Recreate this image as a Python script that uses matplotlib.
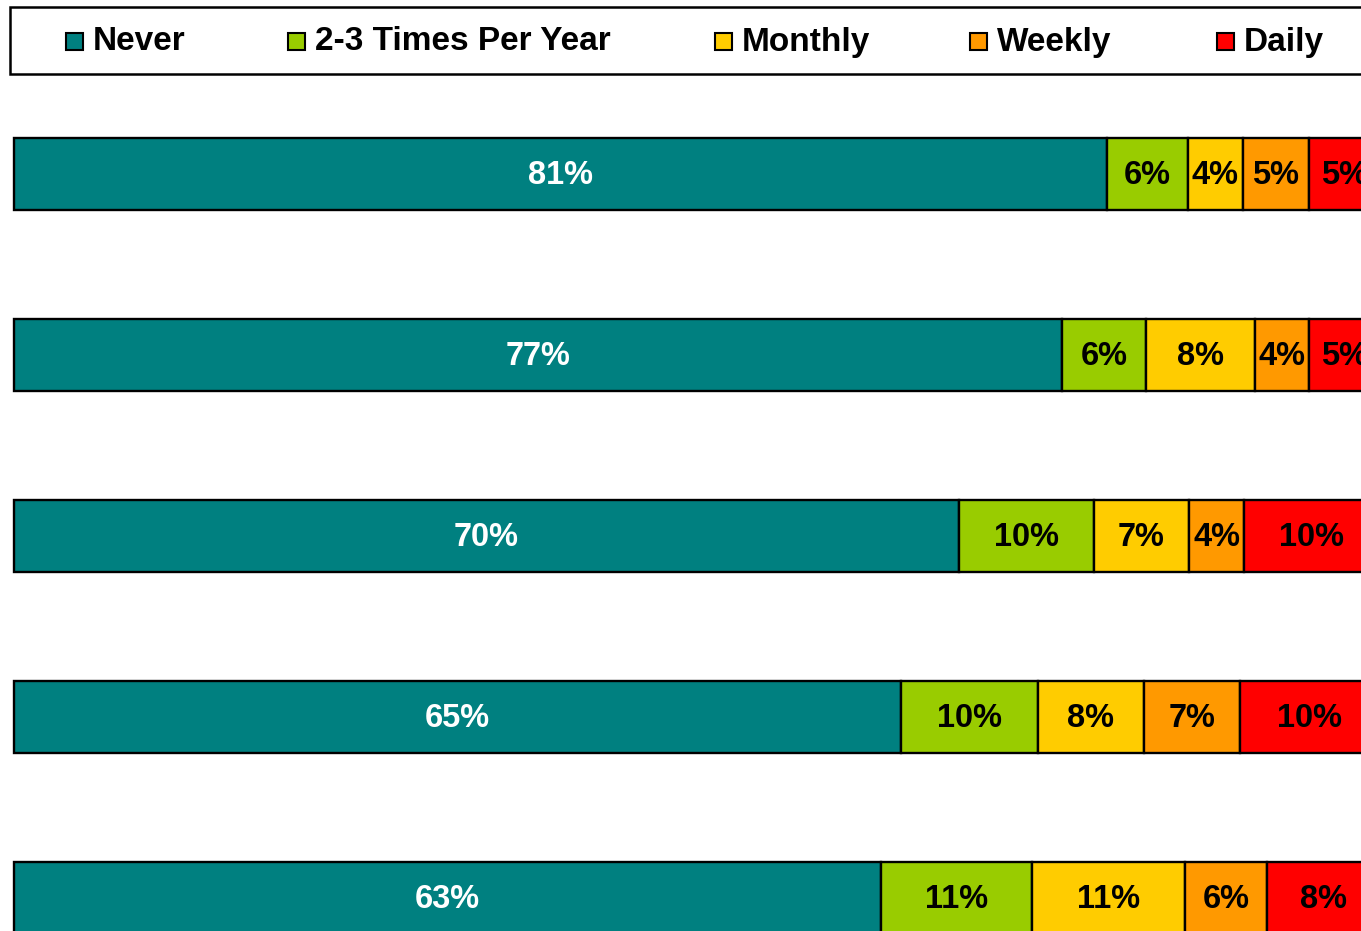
import matplotlib
matplotlib.use("Agg")
import matplotlib.pyplot as plt
from matplotlib.patches import Rectangle

# ---- data ----
rows = ["Group 1", "Group 2", "Group 3", "Group 4", "Group 5"]
series = ["Never", "2-3 Times Per Year", "Monthly", "Weekly", "Daily"]
colors = ["#008080", "#99CC00", "#FFCC00", "#FF9900", "#FF0000"]

never = [80.1, 76.8, 69.2, 65.0, 63.5]
yearly = [5.9, 6.1, 9.9, 10.0, 11.1]
monthly = [4.0, 8.0, 7.0, 7.8, 11.2]
weekly = [4.9, 4.0, 4.0, 7.0, 6.0]
daily = [5.1, 5.1, 9.9, 10.2, 8.2]

never_lbl = ["81%", "77%", "70%", "65%", "63%"]
yearly_lbl = ["6%", "6%", "10%", "10%", "11%"]
monthly_lbl = ["4%", "8%", "7%", "8%", "11%"]
weekly_lbl = ["5%", "4%", "4%", "7%", "6%"]
daily_lbl = ["5%", "5%", "10%", "10%", "8%"]

values = [never, yearly, monthly, weekly, daily]
labels = [never_lbl, yearly_lbl, monthly_lbl, weekly_lbl, daily_lbl]
text_colors = ["white", "black", "black", "black", "black"]

plt.rcParams["font.family"] = ["Liberation Sans", "DejaVu Sans"]

W, H = 1361, 931
fig = plt.figure(figsize=(W / 100, H / 100), dpi=100)
# axes: 0% at x=14px, 100% at x=1379px (beyond right edge, clipped)
ax = fig.add_axes([14 / W, 0, 1365 / W, 1])
ax.set_xlim(0, 100)
ax.set_ylim((931 - 174) / 181, (0 - 174) / 181)
ax.axis("off")

ypos = list(range(len(rows)))
left = [0.0] * len(rows)
for vals, lbls, col, tc in zip(values, labels, colors, text_colors):
    bars = ax.barh(ypos, vals, left=left, height=0.403, color=col,
                   edgecolor="black", linewidth=1.7, clip_on=False)
    for b, lab in zip(bars, lbls):
        cx = b.get_x() + b.get_width() / 2
        cy = b.get_y() + b.get_height() / 2 + 0.008
        ax.text(cx, cy, lab, ha="center", va="center", color=tc,
                fontsize=23.5, fontweight="bold", clip_on=False)
    left = [l + v for l, v in zip(left, vals)]

# ---- legend (figure-level, drawn in pixel coordinates) ----
def fx(px):
    return px / W

def fy(py):
    return 1 - py / H

fig.patches.append(Rectangle((fx(10), fy(74)), fx(1400) - fx(10), fy(7) - fy(74),
                             transform=fig.transFigure, facecolor="white",
                             edgecolor="black", linewidth=1.8, zorder=5))
marker_x = [66, 288, 715, 970, 1217]
for mx, name, col in zip(marker_x, series, colors):
    fig.patches.append(Rectangle((fx(mx), fy(50)), fx(17), 17 / H,
                                 transform=fig.transFigure, facecolor=col,
                                 edgecolor="black", linewidth=1.5, zorder=6))
    fig.text(fx(mx + 27), fy(42), name, ha="left", va="center",
             fontsize=24, fontweight="bold", color="black", zorder=7)

fig.savefig("out.png", dpi=100)
